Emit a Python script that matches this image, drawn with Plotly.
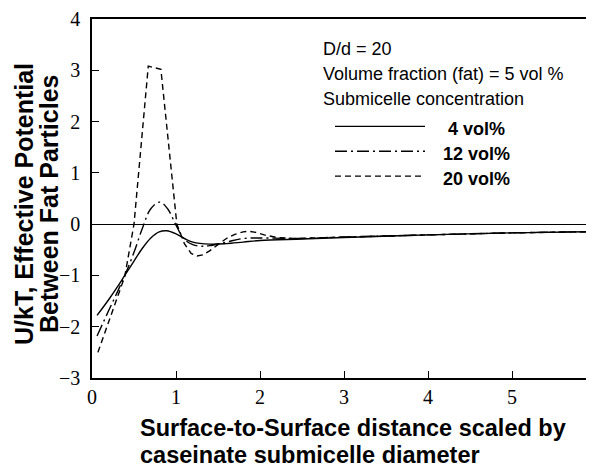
import plotly.graph_objects as go

# ---- data ----
x_4 = [0.06, 0.2, 0.3, 0.39, 0.5, 0.6, 0.7, 0.8, 0.89, 1.0, 1.1, 1.2, 1.4, 1.6, 1.8, 2.0, 2.5, 3.0, 4.0, 5.0, 6.2]
y_4 = [-1.78, -1.47, -1.23, -1.0, -0.72, -0.47, -0.27, -0.15, -0.13, -0.19, -0.28, -0.35, -0.39, -0.38, -0.35, -0.32, -0.29, -0.26, -0.21, -0.17, -0.14]

x_12 = [0.06, 0.2, 0.3, 0.39, 0.5, 0.6, 0.7, 0.81, 0.9, 1.0, 1.1, 1.2, 1.3, 1.4, 1.6, 1.8, 2.0, 2.5, 3.0, 4.0, 5.0, 6.2]
y_12 = [-2.18, -1.68, -1.33, -1.0, -0.55, -0.08, 0.30, 0.43, 0.30, -0.02, -0.30, -0.40, -0.43, -0.42, -0.35, -0.28, -0.27, -0.28, -0.25, -0.21, -0.17, -0.14]

x_20 = [0.07, 0.2, 0.3, 0.39, 0.5, 0.58, 0.67, 0.82, 0.9, 1.01, 1.1, 1.18, 1.25, 1.32, 1.4, 1.5, 1.6, 1.7, 1.8, 1.87, 1.95, 2.05, 2.2, 2.4, 3.0, 4.0, 5.0, 6.2]
y_20 = [-2.5, -1.9, -1.45, -1.02, 0.0, 1.4, 3.08, 3.02, 1.7, 0.0, -0.38, -0.57, -0.62, -0.60, -0.52, -0.40, -0.28, -0.20, -0.15, -0.14, -0.16, -0.21, -0.26, -0.28, -0.25, -0.21, -0.17, -0.14]

series_labels = ["4 vol%", "12 vol%", "20 vol%"]
x_ticks = [0, 1, 2, 3, 4, 5, 6]
y_ticks = [-3, -2, -1, 0, 1, 2, 3, 4]

info_lines = ["D/d = 20", "Volume fraction (fat) = 5 vol %", "Submicelle concentration"]
y_title = ["U/kT, Effective Potential", "Between Fat Particles"]
x_title = ["Surface-to-Surface distance scaled by", "caseinate submicelle diameter"]

# ---- styles ----
DASHES = ["solid", "12px,4px,2px,4px", "6px,4px"]
SHAPES = ["spline", "spline", "linear"]
SANS = "Liberation Sans, Arial, sans-serif"
SERIF = "Times New Roman, Liberation Serif, serif"

OFF = 8  # page body margin
W, H = 600, 459
L = 84            # plot left in figure px  (page 92)
T = 17 - OFF      # plot top
PB = 378 - OFF    # plot bottom (figure px)
B = H - PB
R = 0
pw, ph = W - L - R, PB - T
XUNIT = 84.0
xmax = pw / XUNIT

fig = go.Figure()
for xs, ys, name, dash, shp in zip([x_4, x_12, x_20], [y_4, y_12, y_20], series_labels, DASHES, SHAPES):
    fig.add_trace(go.Scatter(x=xs, y=ys, mode="lines", name=name,
                             line=dict(color="black", width=1.4, dash=dash, shape=shp),
                             showlegend=False))


def px_x(p):  # page px -> paper
    return (p - OFF - L) / pw


def px_y(p):
    return (PB - (p - OFF)) / ph


ann = []
for txt, yy in zip(info_lines, [47, 72, 97]):
    ann.append(dict(text=txt, xref="paper", yref="paper", x=px_x(321), y=px_y(yy),
                    xanchor="left", yanchor="middle", showarrow=False,
                    font=dict(family=SANS, size=18, color="black")))
shapes = []
for lab, dash, yy in zip(series_labels, DASHES, [125, 150, 175]):
    shapes.append(dict(type="line", xref="paper", yref="paper",
                       x0=px_x(335), x1=px_x(425), y0=px_y(yy), y1=px_y(yy),
                       line=dict(color="black", width=1.3, dash=dash)))
    ann.append(dict(text="<b>%s</b>" % lab, xref="paper", yref="paper", x=px_x(476), y=px_y(yy + 3),
                    xanchor="center", yanchor="middle", showarrow=False,
                    font=dict(family=SANS, size=18, color="black")))

for txt, cx in zip(y_title, [24, 49]):
    ann.append(dict(text="<b>%s</b>" % txt, xref="paper", yref="paper", x=px_x(cx), y=px_y(203),
                    xanchor="center", yanchor="middle", textangle=-90, showarrow=False,
                    font=dict(family=SANS, size=25, color="black")))
for txt, cy in zip(x_title, [428, 455]):
    ann.append(dict(text="<b>%s</b>" % txt, xref="paper", yref="paper", x=px_x(138), y=px_y(cy),
                    xanchor="left", yanchor="middle", showarrow=False,
                    font=dict(family=SANS, size=23.5, color="black")))

fig.update_layout(
    width=W, height=H,
    margin=dict(l=L, r=R, t=T, b=B, pad=0),
    plot_bgcolor="white", paper_bgcolor="white",
    annotations=ann, shapes=shapes,
    xaxis=dict(range=[0, xmax], tickvals=x_ticks, ticktext=[str(v) for v in x_ticks],
               showgrid=False, zeroline=False, showline=True, linecolor="black", linewidth=1.5,
               mirror=True, ticks="inside", ticklen=7, tickcolor="black", tickwidth=1,
               ticklabelstandoff=0, ticklabeloverflow="allow",
               tickfont=dict(family=SERIF, size=20, color="black")),
    yaxis=dict(range=[-3, 4], tickvals=y_ticks,
               showgrid=False, zeroline=True, zerolinecolor="black", zerolinewidth=1.3,
               showline=True, linecolor="black", linewidth=1.5,
               ticks="inside", ticklen=7, tickcolor="black", tickwidth=1,
               ticklabelstandoff=6, ticklabeloverflow="allow",
               tickfont=dict(family=SERIF, size=20, color="black")),
)

fig.write_html("out.html")
